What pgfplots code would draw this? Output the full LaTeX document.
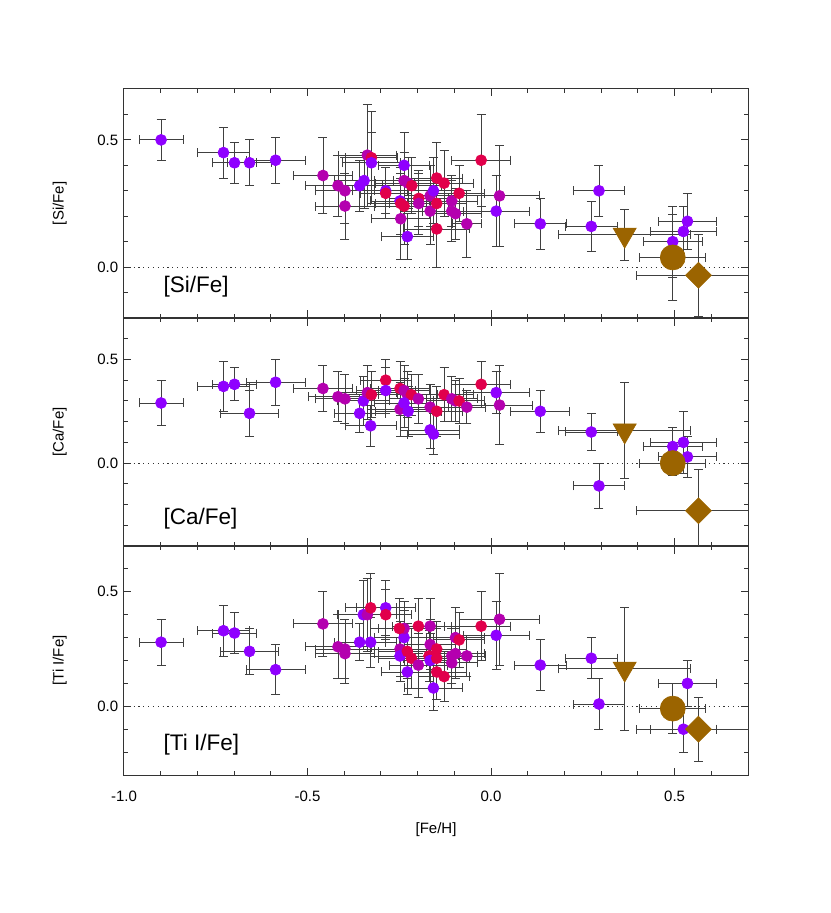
\documentclass[border=0pt]{standalone}
\usepackage{fontspec}
\setmainfont{Liberation Sans}
\usepackage{pgfplots}
\usepackage{pgfplotstable}
\pgfplotsset{compat=1.18}

\definecolor{starP}{RGB}{143,0,255}
\definecolor{starM}{RGB}{180,0,175}
\definecolor{starR}{RGB}{225,0,75}
\definecolor{symB}{RGB}{155,100,0}

% [Si/Fe]
\pgfplotstableread{
x y ex ey c
-0.899 0.50 0.06 0.08 p
-0.729 0.45 0.07 0.10 p
-0.699 0.41 0.06 0.08 p
-0.658 0.41 0.06 0.09 p
-0.587 0.42 0.08 0.09 p
-0.458 0.36 0.08 0.15 m
-0.417 0.32 0.09 0.12 m
-0.398 0.30 0.08 0.13 m
-0.398 0.24 0.08 0.13 m
-0.358 0.32 0.07 0.10 p
-0.346 0.34 0.08 0.11 p
-0.337 0.44 0.08 0.20 m
-0.326 0.43 0.07 0.18 r
-0.326 0.41 0.08 0.12 p
-0.287 0.30 0.09 0.09 p
-0.287 0.29 0.07 0.10 r
-0.248 0.26 0.08 0.13 p
-0.246 0.25 0.07 0.12 r
-0.237 0.24 0.08 0.15 r
-0.246 0.19 0.08 0.16 m
-0.237 0.40 0.07 0.13 p
-0.237 0.34 0.08 0.11 m
-0.226 0.33 0.09 0.10 m
-0.216 0.32 0.08 0.11 r
-0.228 0.12 0.07 0.09 p
-0.197 0.27 0.08 0.11 r
-0.197 0.25 0.08 0.12 m
-0.166 0.28 0.07 0.12 m
-0.157 0.30 0.07 0.13 p
-0.166 0.22 0.08 0.13 m
-0.148 0.35 0.07 0.14 r
-0.128 0.33 0.08 0.13 r
-0.148 0.25 0.08 0.11 r
-0.148 0.15 0.09 0.15 r
-0.107 0.26 0.07 0.10 m
-0.107 0.22 0.08 0.12 m
-0.097 0.21 0.07 0.10 m
-0.087 0.29 0.07 0.11 r
-0.066 0.17 0.04 0.13 m
-0.027 0.42 0.08 0.18 r
0.014 0.22 0.09 0.14 p
0.023 0.28 0.11 0.20 m
0.134 0.17 0.07 0.10 p
0.273 0.16 0.07 0.10 p
0.294 0.30 0.07 0.10 p
0.495 0.10 0.08 0.14 p
0.524 0.14 0.09 0.10 p
0.535 0.18 0.08 0.11 p
}\sidata

% [Ca/Fe]
\pgfplotstableread{
x y ex ey c
-0.899 0.29 0.06 0.11 p
-0.729 0.37 0.07 0.12 p
-0.699 0.38 0.06 0.08 p
-0.658 0.24 0.08 0.11 p
-0.587 0.39 0.08 0.11 p
-0.458 0.36 0.08 0.11 m
-0.417 0.32 0.08 0.12 m
-0.398 0.31 0.08 0.12 m
-0.358 0.24 0.07 0.09 p
-0.348 0.30 0.07 0.12 p
-0.337 0.34 0.08 0.13 m
-0.326 0.33 0.07 0.11 r
-0.328 0.18 0.07 0.10 p
-0.287 0.40 0.07 0.10 r
-0.287 0.35 0.08 0.11 p
-0.248 0.36 0.08 0.13 r
-0.237 0.35 0.07 0.12 m
-0.228 0.33 0.08 0.11 m
-0.217 0.33 0.07 0.10 r
-0.248 0.26 0.09 0.13 m
-0.237 0.29 0.08 0.12 p
-0.226 0.25 0.09 0.12 p
-0.198 0.31 0.08 0.12 m
-0.166 0.27 0.07 0.11 m
-0.166 0.16 0.08 0.09 p
-0.157 0.14 0.07 0.10 p
-0.148 0.25 0.07 0.12 r
-0.128 0.33 0.08 0.13 r
-0.107 0.31 0.07 0.11 m
-0.097 0.30 0.08 0.10 m
-0.087 0.30 0.07 0.11 r
-0.066 0.27 0.05 0.08 m
-0.027 0.38 0.08 0.11 r
0.014 0.34 0.09 0.10 p
0.023 0.28 0.09 0.19 m
0.134 0.25 0.08 0.10 p
0.273 0.15 0.07 0.09 p
0.294 -0.11 0.07 0.11 p
0.495 0.08 0.08 0.09 p
0.524 0.10 0.09 0.15 p
0.535 0.03 0.08 0.10 p
}\cadata

% [Ti I/Fe]
\pgfplotstableread{
x y ex ey c
-0.899 0.28 0.06 0.10 p
-0.729 0.33 0.07 0.11 p
-0.699 0.32 0.06 0.09 p
-0.658 0.24 0.08 0.10 p
-0.587 0.16 0.08 0.11 p
-0.458 0.36 0.08 0.14 m
-0.417 0.26 0.09 0.14 m
-0.398 0.25 0.08 0.13 m
-0.398 0.23 0.08 0.13 m
-0.358 0.28 0.07 0.08 p
-0.348 0.40 0.07 0.15 p
-0.337 0.40 0.08 0.16 m
-0.328 0.43 0.07 0.15 r
-0.328 0.28 0.07 0.11 p
-0.287 0.43 0.08 0.12 p
-0.287 0.40 0.07 0.11 r
-0.248 0.25 0.08 0.12 m
-0.248 0.22 0.08 0.11 p
-0.237 0.30 0.08 0.12 p
-0.237 0.34 0.07 0.12 m
-0.250 0.34 0.08 0.13 r
-0.228 0.24 0.08 0.12 r
-0.217 0.21 0.09 0.13 r
-0.228 0.15 0.07 0.10 p
-0.198 0.35 0.07 0.12 r
-0.198 0.18 0.08 0.14 m
-0.166 0.35 0.07 0.12 m
-0.166 0.27 0.07 0.11 m
-0.169 0.22 0.08 0.11 r
-0.166 0.20 0.07 0.12 p
-0.157 0.08 0.08 0.10 p
-0.148 0.25 0.08 0.12 r
-0.148 0.21 0.09 0.13 r
-0.148 0.15 0.08 0.12 r
-0.128 0.13 0.07 0.11 r
-0.107 0.22 0.07 0.12 m
-0.107 0.19 0.07 0.11 m
-0.097 0.30 0.08 0.13 m
-0.087 0.29 0.07 0.12 r
-0.097 0.23 0.08 0.11 m
-0.066 0.22 0.05 0.09 m
-0.027 0.35 0.08 0.15 r
0.014 0.31 0.09 0.15 p
0.023 0.38 0.11 0.20 m
0.134 0.18 0.07 0.11 p
0.273 0.21 0.07 0.09 p
0.294 0.01 0.07 0.11 p
0.524 -0.10 0.09 0.10 p
0.535 0.10 0.08 0.10 p
}\tidata

\tikzset{plabel/.style={anchor=west, inner sep=0pt, font=\fontsize{13.5}{14}\selectfont}}

\pgfplotsset{
  panel/.style={
    scale only axis, width=374.4pt,
    xmin=-1, xmax=0.7,
    xtick={-1,-0.5,0,0.5},
    minor xtick={-0.9,-0.8,-0.7,-0.6,-0.4,-0.3,-0.2,-0.1,0.1,0.2,0.3,0.4,0.6},
    ytick={0,0.5},
    tick align=inside,
    major tick length=4.5pt, minor tick length=2.5pt,
    axis line style={black!80, line width=0.6pt},
    every tick/.style={black!80, line width=0.6pt},
    ticklabel style={font=\fontsize{9}{10}\selectfont},
    /pgf/number format/fixed, /pgf/number format/fixed zerofill,
    /pgf/number format/precision=1,
    /pgf/number format/assume math mode=true,
    label style={font=\fontsize{9}{10}\selectfont},
    ylabel style={at={(axis description cs:-0.103,0.5)}, anchor=center},
  },
  eb/.style={error bars/.cd, x dir=both, x explicit, y dir=both, y explicit,
    error bar style={black!75, line width=0.5pt},
    error mark options={rotate=90, black!75, mark size=2.7pt, line width=0.5pt}},
  stars/.style={scatter, only marks, mark=*, mark size=3.3pt,
    scatter src=explicit symbolic,
    scatter/classes={p={starP}, m={starM}, r={starR}}, eb},
  zero/.style={black!80, line width=0.5pt, dash pattern=on 0.7pt off 2.2pt, forget plot},
}

\begin{document}
\begin{tikzpicture}
\path[use as bounding box] (-74.4pt,53.4pt) rectangle (423.6pt,-494.4pt);

\begin{axis}[panel, at={(0,0)}, anchor=north west, height=137.4pt,
  ymin=-0.2, ymax=0.7,
  minor ytick={-0.1,0.1,0.2,0.3,0.4,0.6},
  xticklabels={}, ylabel={[Si/Fe]}]
\addplot[zero] coordinates {(-1,0) (0.7,0)};
\addplot[stars] table[x=x, y=y, x error=ex, y error=ey, meta=c] {\sidata};
\addplot[only marks, mark=triangle*, mark size=8pt, mark options={rotate=180, symB}, eb]
  table[x=x, y=y, x error=ex, y error=ey] {
x y ex ey
0.364 0.127 0.18 0.10
};
\addplot[only marks, mark=*, mark size=7.5pt, mark options={symB}, eb]
  table[x=x, y=y, x error=ex, y error=ey] {
x y ex ey
0.495 0.038 0.09 0.17
};
\addplot[only marks, mark=square*, mark size=5.5pt, mark options={rotate=45, symB}, eb]
  table[x=x, y=y, x error=ex, y error=ey] {
x y ex ey
0.565 -0.032 0.17 0.16
};
\node[plabel] at (rel axis cs:0.063,0.137) {[Si/Fe]};
\end{axis}

\begin{axis}[panel, at={(0,-137.4pt)}, anchor=north west, height=136.8pt,
  ymin=-0.4, ymax=0.7,
  minor ytick={-0.4,-0.3,-0.2,-0.1,0.1,0.2,0.3,0.4,0.6},
  xticklabels={}, ylabel={[Ca/Fe]}]
\addplot[zero] coordinates {(-1,0) (0.7,0)};
\addplot[stars] table[x=x, y=y, x error=ex, y error=ey, meta=c] {\cadata};
\addplot[only marks, mark=triangle*, mark size=8pt, mark options={rotate=180, symB}, eb]
  table[x=x, y=y, x error=ex, y error=ey] {
x y ex ey
0.364 0.157 0.18 0.23
};
\addplot[only marks, mark=*, mark size=7.5pt, mark options={symB}, eb]
  table[x=x, y=y, x error=ex, y error=ey] {
x y ex ey
0.495 0.0 0.09 0.06
};
\addplot[only marks, mark=square*, mark size=5.5pt, mark options={rotate=45, symB}, eb]
  table[x=x, y=y, x error=ex, y error=ey] {
x y ex ey
0.565 -0.23 0.17 0.20
};
\node[plabel] at (rel axis cs:0.063,0.121) {[Ca/Fe]};
\end{axis}

\begin{axis}[panel, at={(0,-274.2pt)}, anchor=north west, height=137.4pt,
  ymin=-0.3, ymax=0.7,
  minor ytick={-0.2,-0.1,0.1,0.2,0.3,0.4,0.6},
  xticklabel style={yshift=-6pt},
  xlabel={[Fe/H]}, ylabel={[Ti I/Fe]},
  xlabel style={at={(axis description cs:0.5,-0.24)}, anchor=center}]
\addplot[zero] coordinates {(-1,0) (0.7,0)};
\addplot[stars] table[x=x, y=y, x error=ex, y error=ey, meta=c] {\tidata};
\addplot[only marks, mark=triangle*, mark size=8pt, mark options={rotate=180, symB}, eb]
  table[x=x, y=y, x error=ex, y error=ey] {
x y ex ey
0.364 0.164 0.18 0.27
};
\addplot[only marks, mark=*, mark size=7.5pt, mark options={symB}, eb]
  table[x=x, y=y, x error=ex, y error=ey] {
x y ex ey
0.495 -0.01 0.09 0.11
};
\addplot[only marks, mark=square*, mark size=5.5pt, mark options={rotate=45, symB}, eb]
  table[x=x, y=y, x error=ex, y error=ey] {
x y ex ey
0.565 -0.10 0.17 0.14
};
\node[plabel] at (rel axis cs:0.063,0.131) {[Ti I/Fe]};
\end{axis}
\end{tikzpicture}
\end{document}
